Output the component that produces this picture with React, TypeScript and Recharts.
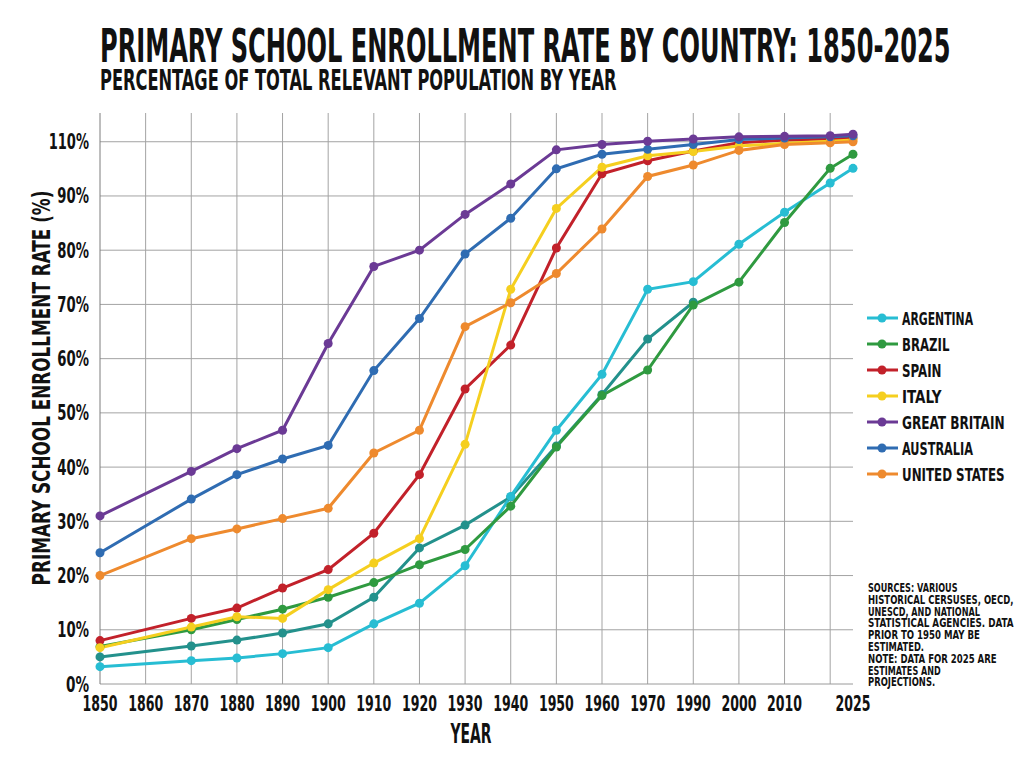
import React, { useLayoutEffect, useRef, useState } from 'react';
import {
  LineChart,
  Line,
  XAxis,
  YAxis,
  CartesianGrid,
  Legend
} from 'recharts';

// Years with data points (no points at 1860 or 1980)
const years = [1850, 1870, 1880, 1890, 1900, 1910, 1920, 1930, 1940, 1950, 1960, 1970, 1990, 2000, 2010, 2020, 2025];
// The original x-axis is not to scale: each labelled gridline is one step
const yearPos = [0, 2, 3, 4, 5, 6, 7, 8, 9, 10, 11, 12, 13, 14, 15, 16, 16.5];

const xTicks = [0, 1, 2, 3, 4, 5, 6, 7, 8, 9, 10, 11, 12, 13, 14, 15, 16, 16.5];
const xTickLabels = ['1850', '1860', '1870', '1880', '1890', '1900', '1910', '1920', '1930', '1940', '1950', '1960', '1970', '1990', '2000', '2010', '', '2025'];

const yTicks = [0, 10, 20, 30, 40, 50, 60, 70, 80, 90, 100];
const yTickLabels = ['0%', '10%', '20%', '30%', '40%', '50%', '60%', '70%', '80%', '90%', '110%'];

const argentina = [3.2, 4.3, 4.8, 5.6, 6.7, 11.1, 14.9, 21.8, 34.6, 46.8, 57.1, 72.8, 74.2, 81.1, 87.0, 92.4, 95.1];
const brazil = [6.9, 10.0, 11.9, 13.8, 16.0, 18.7, 22.0, 24.8, 32.8, 43.7, 53.2, 57.9, 69.9, 74.1, 85.1, 95.1, 97.7];
const spain = [8.0, 12.1, 14.0, 17.7, 21.1, 27.8, 38.6, 54.4, 62.5, 80.4, 94.1, 96.5, 98.3, 99.8, 100.3, 100.5, 100.7];
const italy = [6.7, 10.5, 12.4, 12.1, 17.4, 22.3, 26.8, 44.2, 72.8, 87.7, 95.3, 97.4, 98.2, 99.2, 99.7, 100.1, 100.3];
const greatBritain = [31.0, 39.2, 43.4, 46.8, 62.8, 77.0, 80.0, 86.6, 92.2, 98.5, 99.5, 100.1, 100.5, 100.9, 101.0, 101.1, 101.4];
const australia = [24.2, 34.1, 38.6, 41.5, 44.0, 57.8, 67.4, 79.3, 85.9, 95.0, 97.7, 98.6, 99.5, 100.4, 100.7, 100.9, 101.1];
const unitedStates = [20.0, 26.8, 28.6, 30.5, 32.4, 42.6, 46.8, 65.9, 70.3, 75.7, 83.9, 93.6, 95.7, 98.4, 99.5, 99.8, 100.0];
// extra teal line drawn in the chart but missing from the legend
const unlabeled = [5.0, 7.0, 8.1, 9.4, 11.1, 16.0, 25.1, 29.3, 34.5, 43.9, 53.4, 63.6, 70.4, null, null, null, null];

const legendItems = [
  { label: 'ARGENTINA', color: '#27bdd3' },
  { label: 'BRAZIL', color: '#2f9a40' },
  { label: 'SPAIN', color: '#c2212a' },
  { label: 'ITALY', color: '#f5cf1f' },
  { label: 'GREAT BRITAIN', color: '#6b3a95' },
  { label: 'AUSTRALIA', color: '#2f6cb2' },
  { label: 'UNITED STATES', color: '#ee8a2e' }
];

const sourceLines = [
  'SOURCES: VARIOUS',
  'HISTORICAL CERSUSES, OECD,',
  'UNESCD, AND NATIONAL',
  'STATISTICAL AGENCIES. DATA',
  'PRIOR TO 1950 MAY BE',
  'ESTIMATED.',
  'NOTE: DATA FOR 2025 ARE',
  'ESTIMATES AND',
  'PROJECTIONS.'
];

const data = years.map((year, i) => ({
  year,
  pos: yearPos[i],
  argentina: argentina[i],
  brazil: brazil[i],
  spain: spain[i],
  italy: italy[i],
  greatBritain: greatBritain[i],
  australia: australia[i],
  unitedStates: unitedStates[i],
  unlabeled: unlabeled[i]
}));

const FONT = "'DejaVu Sans Condensed', 'Liberation Sans', Arial, sans-serif";

// Squeezes a bold text horizontally to a given width (the original uses a very narrow font)
function FitText({ x, y, width, anchor = 'start', rotate = 0, size, children }: any) {
  const ref = useRef<SVGTextElement>(null);
  const [sx, setSx] = useState(1);
  useLayoutEffect(() => {
    if (ref.current) {
      const natural = ref.current.getComputedTextLength();
      if (natural > 0) setSx(width / natural);
    }
  }, [width, children]);
  return (
    <g transform={`translate(${x} ${y}) rotate(${rotate}) scale(${sx} 1)`}>
      <text ref={ref} x={0} y={0} textAnchor={anchor} fontFamily={FONT} fontWeight={700}
        fontSize={size} fill="#111">
        {children}
      </text>
    </g>
  );
}

function XTick({ x, y, payload }: any) {
  const label = xTickLabels[xTicks.indexOf(payload.value)] ?? '';
  if (!label) return null;
  return <FitText x={x} y={y + 27} width={35} anchor="middle" size={21}>{label}</FitText>;
}

function YTick({ x, y, payload }: any) {
  const label = yTickLabels[yTicks.indexOf(payload.value)] ?? '';
  const digits = label.length - 1;
  return <FitText x={x} y={y + 7.5} width={digits * 8.6 + 14.5} anchor="end" size={21}>{label}</FitText>;
}

function LegendContent() {
  return (
    <div style={{ display: 'flex', flexDirection: 'column' }}>
      {legendItems.map(item => (
        <svg key={item.label} width={150} height={26} style={{ display: 'block' }}>
          <line x1={1} x2={32} y1={13} y2={13} stroke={item.color} strokeWidth={3} />
          <circle cx={16} cy={13} r={4.5} fill={item.color} />
          <FitText x={36} y={19.5} width={item.label.length * 7.9} size={18}>{item.label}</FitText>
        </svg>
      ))}
    </div>
  );
}

const series = [
  { key: 'unlabeled', color: '#23918c' },
  { key: 'argentina', color: '#27bdd3' },
  { key: 'brazil', color: '#2f9a40' },
  { key: 'spain', color: '#c2212a' },
  { key: 'italy', color: '#f5cf1f' },
  { key: 'unitedStates', color: '#ee8a2e' },
  { key: 'australia', color: '#2f6cb2' },
  { key: 'greatBritain', color: '#6b3a95' }
];

export default function App() {
  return (
    <div style={{ position: 'relative', width: 1008, height: 749, background: '#fff' }}>
      <LineChart
        width={1008}
        height={749}
        data={data}
        margin={{ top: 105, right: 163, bottom: 43, left: 0 }}
      >
        <CartesianGrid
          stroke="#a3a3a3"
          horizontalValues={[10, 20, 30, 40, 50, 60, 70, 80, 90, 100]}
          verticalValues={[1, 2, 3, 4, 5, 6, 7, 8, 9, 10, 11, 12, 13, 14, 15, 16]}
        />
        <XAxis
          type="number"
          dataKey="pos"
          domain={[0, 16.5]}
          ticks={xTicks}
          interval={0}
          height={30}
          tickSize={0}
          tickMargin={0}
          tickLine={false}
          axisLine={{ stroke: '#9a9a9a' }}
          tick={<XTick />}
        />
        <YAxis
          type="number"
          domain={[0, 105.3]}
          ticks={yTicks}
          interval={0}
          width={92}
          tickSize={0}
          tickMargin={11}
          tickLine={false}
          axisLine={{ stroke: '#7d7d7d' }}
          tick={<YTick />}
        />
        <Legend
          layout="vertical"
          align="center"
          verticalAlign="middle"
          content={<LegendContent />}
          wrapperStyle={{ left: 858, top: 297, width: 150 }}
        />
        {series.map(s => (
          <Line
            key={s.key}
            type="linear"
            dataKey={s.key}
            stroke={s.color}
            strokeWidth={3}
            dot={{ r: 4.5, fill: s.color, stroke: s.color, strokeWidth: 0 }}
            activeDot={false}
            legendType={s.key === 'unlabeled' ? 'none' : 'line'}
            connectNulls={false}
            isAnimationActive={false}
          />
        ))}
      </LineChart>

      <svg width={1008} height={749} style={{ position: 'absolute', left: 0, top: 0, pointerEvents: 'none' }}>
        <FitText x={92} y={54} width={851} size={46}>
          PRIMARY SCHOOL ENROLLMENT RATE BY COUNTRY: 1850-2025
        </FitText>
        <FitText x={92} y={82} width={517} size={29}>
          PERCENTAGE OF TOTAL RELEVANT POPULATION BY YEAR
        </FitText>
        <FitText x={42} y={380} rotate={-90} width={395} anchor="middle" size={24}>
          PRIMARY SCHOOL ENROLLMENT RATE (%)
        </FitText>
        <FitText x={463} y={735} width={41} anchor="middle" size={27}>
          YEAR
        </FitText>
        {sourceLines.map((line, i) => (
          <FitText key={i} x={860} y={584 + i * 11.8} width={line.length * 5.6} size={12}>
            {line}
          </FitText>
        ))}
      </svg>
    </div>
  );
}
